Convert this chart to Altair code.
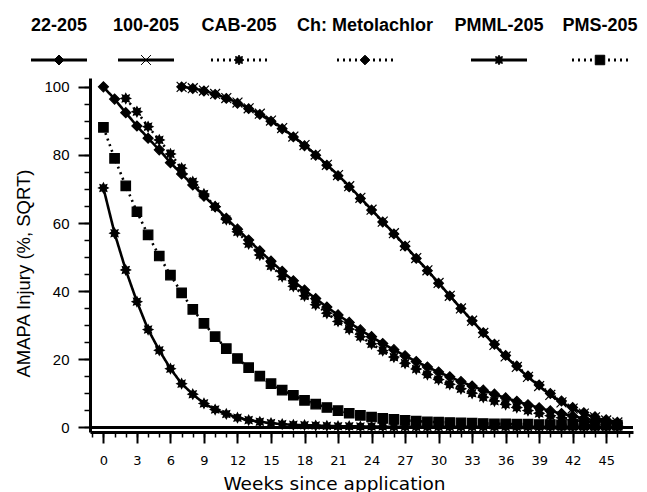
import math
import altair as alt
import pandas as pd

SERIES = ["22-205", "100-205", "CAB-205", "Ch: Metolachlor", "PMML-205", "PMS-205"]

WEEKS_22 = list(range(0, 47))
INJ_22 = [100, 96.4, 92.4, 88.5, 84.9, 81.5, 77.7, 74.4, 71.2, 67.9,
          64.8, 61.4, 58.2, 55.0, 51.8, 48.8, 45.8, 43.0, 40.3, 37.8,
          35.3, 33.0, 30.8, 28.6, 26.6, 24.6, 22.8, 21.0, 19.3, 17.7,
          16.2, 14.8, 13.4, 12.1, 10.9, 9.7, 8.6, 7.6, 6.6, 5.7,
          4.8, 4.0, 3.3, 2.6, 2.0, 1.5, 1.0]

WEEKS_100 = list(range(7, 47))
INJ_100 = [100, 99.6, 98.9, 97.9, 96.7, 95.4, 93.7, 92.1, 90.1, 87.9,
           85.4, 82.9, 80.1, 77.1, 74.1, 70.8, 67.4, 63.9, 60.4, 57.0,
           53.3, 49.7, 46.1, 42.4, 38.6, 34.9, 31.3, 27.7, 24.2, 20.8,
           17.7, 14.8, 12.1, 9.5, 7.3, 5.5, 4.0, 2.9, 2.0, 1.4]

WEEKS_CAB = list(range(2, 47))
INJ_CAB = [96.6, 92.7, 88.3, 84.4, 80.3, 76.1, 72.1, 68.5, 64.8, 61.0,
           57.4, 53.9, 50.6, 47.4, 44.3, 41.4, 38.6, 36.0, 33.5, 31.1,
           28.8, 26.6, 24.5, 22.5, 20.6, 18.8, 17.1, 15.5, 14.0, 12.6,
           11.3, 10.0, 8.8, 7.7, 6.7, 5.8, 4.9, 4.1, 3.4, 2.8,
           2.2, 1.7, 1.3, 0.9, 0.6]

WEEKS_MET = list(range(7, 47))
INJ_MET = [100, 99.5, 98.8, 97.8, 96.6, 95.2, 93.6, 91.9, 89.9, 87.7,
           85.3, 82.7, 79.9, 77.0, 73.9, 70.6, 67.2, 63.8, 60.3, 56.8,
           53.2, 49.6, 46.0, 42.3, 38.6, 34.9, 31.3, 27.8, 24.4, 21.1,
           18.0, 15.1, 12.4, 9.9, 7.7, 5.8, 4.3, 3.1, 2.2, 1.5]

WEEKS_PMML = list(range(0, 47))
INJ_PMML = [70.3, 57.0, 46.2, 36.9, 28.7, 22.6, 17.2, 12.8, 9.7, 7.0,
            5.2, 3.9, 2.8, 2.1, 1.6, 1.2, 0.9, 0.7, 0.6, 0.5,
            0.4, 0.3, 0.3, 0.2, 0.2, 0.2, 0.1, 0.1, 0.1, 0.1,
            0.1, 0.1, 0.1, 0.1, 0.1, 0.1, 0.1, 0.1, 0.1, 0.1,
            0.1, 0.1, 0.1, 0.1, 0.1, 0.1, 0.1]

WEEKS_PMS = list(range(0, 47))
INJ_PMS = [88.1, 79.0, 70.9, 63.3, 56.5, 50.3, 44.7, 39.5, 34.6, 30.5,
           26.6, 23.1, 20.2, 17.5, 15.0, 12.8, 10.9, 9.4, 7.9, 6.8,
           5.8, 4.9, 4.1, 3.5, 3.0, 2.6, 2.3, 2.0, 1.8, 1.6,
           1.5, 1.4, 1.3, 1.2, 1.1, 1.0, 1.0, 0.9, 0.9, 0.8,
           0.8, 0.7, 0.7, 0.7, 0.6, 0.6, 0.6]

X_TICKS = list(range(0, 46, 3))
X_MINOR = list(range(-1, 48))
Y_TICKS = [0, 20, 40, 60, 80, 100]
Y_MINOR = list(range(0, 101, 5))

rows = []
for name, wk, val in [("22-205", WEEKS_22, INJ_22), ("100-205", WEEKS_100, INJ_100),
                      ("CAB-205", WEEKS_CAB, INJ_CAB), ("Ch: Metolachlor", WEEKS_MET, INJ_MET),
                      ("PMML-205", WEEKS_PMML, INJ_PMML), ("PMS-205", WEEKS_PMS, INJ_PMS)]:
    for w, v in zip(wk, val):
        rows.append({"series": name, "week": w, "injury": v})
df = pd.DataFrame(rows)
legend_df = pd.DataFrame({"series": SERIES, "slot": list(range(len(SERIES)))})


def star_path(n=8, r_in=0.6):
    pts = []
    for k in range(2 * n):
        a = math.pi * k / n - math.pi / 2
        r = 1.0 if k % 2 == 0 else r_in
        pts.append(f"{r * math.cos(a):.3f},{r * math.sin(a):.3f}")
    return "M" + "L".join(pts) + "Z"


STAR = star_path()
XMARK = "M-1,-1L1,1M-1,1L1,-1"
SHAPES = ["diamond", XMARK, STAR, "diamond", STAR, "square"]
SIZES = [100, 90, 140, 100, 85, 110]
DASHES = [[1, 0], [1, 0], [2, 4], [2, 4], [1, 0], [2, 4]]

shape_enc = alt.Shape("series:N", scale=alt.Scale(domain=SERIES, range=SHAPES), legend=None)
size_enc = alt.Size("series:N", scale=alt.Scale(domain=SERIES, range=SIZES), legend=None)
dash_enc = alt.StrokeDash("series:N", scale=alt.Scale(domain=SERIES, range=DASHES), legend=None)

xs = alt.Scale(domain=[-1.2, 47.4], nice=False, zero=False)
ys = alt.Scale(domain=[-1.4, 102.6], nice=False, zero=False)

x_major = alt.Axis(values=X_TICKS, orient="bottom", title="Weeks since application",
                   labelFont="DejaVu Sans", labelFontSize=13, labelColor="black", labelPadding=11,
                   labelFlush=False, labelOverlap=False,
                   tickSize=11, tickWidth=2, tickColor="black",
                   domainColor="black", domainWidth=3, grid=False,
                   titleFont="DejaVu Sans", titleFontSize=18.5, titleFontWeight="normal",
                   titleColor="black", titleX=244, titleY=42, titleAlign="center",
                   titleBaseline="top")
x_minor = alt.Axis(values=X_MINOR, orient="bottom", labels=False, tickSize=5, tickWidth=1.5,
                   tickColor="black", domain=False, grid=False, title=None)
y_major = alt.Axis(values=Y_TICKS, orient="left", title="AMAPA Injury (%, SQRT)",
                   labelFont="Liberation Sans", labelFontSize=15, labelColor="black", labelPadding=9,
                   labelFlush=False, labelOverlap=False,
                   tickSize=12, tickWidth=2, tickColor="black",
                   domainColor="black", domainWidth=3, grid=False,
                   titleFont="Liberation Sans", titleFontSize=18.5, titleFontWeight="normal",
                   titleColor="black", titleX=-57, titleY=195, titleAlign="center",
                   titleBaseline="bottom")
y_minor = alt.Axis(values=Y_MINOR, orient="left", labels=False, tickSize=6, tickWidth=1.5,
                   tickColor="black", domain=False, grid=False, title=None)

base = alt.Chart(df)

lines = base.mark_line(strokeWidth=2.6, color="black").encode(
    x=alt.X("week:Q", scale=xs, axis=x_major),
    y=alt.Y("injury:Q", scale=ys, axis=y_major),
    strokeDash=dash_enc,
)

points = base.mark_point(filled=True, color="black", stroke="black", strokeWidth=1.2, opacity=1).encode(
    x=alt.X("week:Q", scale=xs, axis=None),
    y=alt.Y("injury:Q", scale=ys, axis=None),
    shape=shape_enc,
    size=size_enc,
)

zero_rule = alt.Chart(df).mark_rule(color="black", strokeWidth=2).encode(
    y=alt.YDatum(0, scale=ys, axis=None),
)

minor_axes = base.mark_point(opacity=0).encode(
    x=alt.X("week:Q", scale=xs, axis=x_minor),
    y=alt.Y("injury:Q", scale=ys, axis=y_minor),
)

main = alt.layer(lines, points, zero_rule, minor_axes).resolve_axis(x="independent", y="independent")

lx = alt.Scale(domain=[0, 1, 2, 3, 4, 5], range=[-31, 56, 149, 275, 409, 510], nice=False, zero=False)
lbase = alt.Chart(legend_df)
leg_text = lbase.mark_text(font="Liberation Sans", fontSize=18, fontWeight="bold",
                           align="center", baseline="middle", color="black").encode(
    x=alt.X("slot:Q", scale=lx, axis=None),
    y=alt.value(-52),
    text="series:N",
)
leg_rule = lbase.mark_rule(xOffset=-28, x2Offset=28, strokeWidth=3, color="black").encode(
    x=alt.X("slot:Q", scale=lx, axis=None),
    x2=alt.X2("slot:Q"),
    y=alt.value(-18),
    strokeDash=dash_enc,
)
leg_pts = lbase.mark_point(filled=True, color="black", stroke="black", strokeWidth=1, opacity=1).encode(
    x=alt.X("slot:Q", scale=lx, axis=None),
    y=alt.value(-18),
    shape=shape_enc,
    size=size_enc,
)
legend = alt.layer(leg_rule, leg_pts, leg_text)

chart = alt.layer(main, legend).resolve_scale(x="independent").properties(
    width=543, height=354,
    autosize=alt.AutoSizeParams(type="none"),
    padding={"left": 82, "top": 70, "right": 6, "bottom": 60},
    background="white",
).configure_view(strokeWidth=0)

chart.save("out.html", embed_options={"renderer": "svg", "actions": False})
